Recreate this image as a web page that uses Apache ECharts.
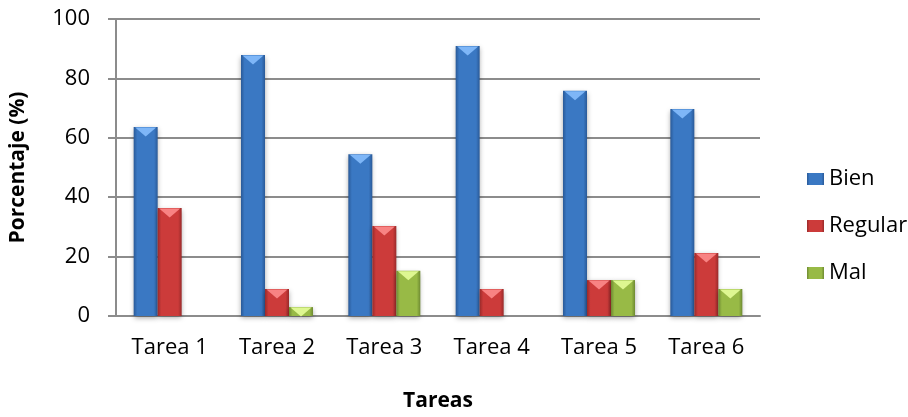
<!DOCTYPE html>
<html>
<head>
<meta charset="utf-8">
<script src="https://cdn.jsdelivr.net/npm/echarts@6/dist/echarts.min.js"></script>
<style>
  html, body { margin: 0; padding: 0; background: #fff; }
  #chart { width: 908px; height: 417px; }
</style>
</head>
<body>
<div id="chart"></div>
<script>
// Task categories and percentage results per rating
const categories = ['Tarea 1', 'Tarea 2', 'Tarea 3', 'Tarea 4', 'Tarea 5', 'Tarea 6'];
const bien    = [63.6, 87.9, 54.5, 90.9, 75.8, 69.7];
const regular = [36.4, 9.1, 30.3, 9.1, 12.1, 21.2];
const mal     = [0, 3.0, 15.2, 0, 12.1, 9.1];
const yTicks  = [0, 20, 40, 60, 80, 100];

const FONT = '"Open Sans", "Noto Sans", sans-serif';

// horizontal shading so each column looks rounded/bevelled
function shade(edge, mid) {
  return new echarts.graphic.LinearGradient(0, 0, 1, 0, [
    { offset: 0, color: edge },
    { offset: 0.15, color: mid },
    { offset: 0.85, color: mid },
    { offset: 1, color: edge }
  ]);
}

// light downward wedge on top of each column
function caps(values, color) {
  return {
    symbol: 'triangle',
    symbolRotate: 180,
    symbolSize: [21, 9],
    symbolOffset: [0, 5],
    silent: true,
    label: { show: false },
    itemStyle: { color: color },
    data: values.map((v, i) => ({ coord: [i, v] })).filter(d => d.coord[1] > 0)
  };
}

function barSeries(name, values, edge, mid, cap) {
  return {
    name: name,
    type: 'bar',
    data: values,
    barWidth: 24,
    barGap: '0%',
    itemStyle: {
      color: shade(edge, mid),
      shadowColor: 'rgba(0,0,0,0.35)',
      shadowBlur: 5,
      shadowOffsetY: 2
    },
    markPoint: caps(values, cap)
  };
}

const chart = echarts.init(document.getElementById('chart'), null, { renderer: 'canvas' });
chart.setOption({
  animation: false,
  backgroundColor: '#ffffff',
  grid: { left: 113, right: 148, top: 19, bottom: 87 },
  legend: {
    orient: 'vertical',
    left: 802,
    top: 163,
    itemWidth: 17,
    itemHeight: 12,
    itemGap: 25,
    icon: 'rect',
    textStyle: { fontFamily: FONT, fontSize: 22, color: '#000', lineHeight: 22 },
    data: ['Bien', 'Regular', 'Mal']
  },
  xAxis: {
    type: 'category',
    data: categories,
    name: 'Tareas',
    nameLocation: 'middle',
    nameGap: 75,
    nameTextStyle: { fontFamily: FONT, fontSize: 21, fontWeight: 'bold', color: '#000' },
    axisLine: { lineStyle: { color: '#8c8c8c', width: 2 } },
    axisTick: { show: false },
    axisLabel: { fontFamily: FONT, fontSize: 22, color: '#000', margin: 21 }
  },
  yAxis: {
    type: 'value',
    min: yTicks[0],
    max: yTicks[yTicks.length - 1],
    interval: 20,
    name: 'Porcentaje (%)',
    nameLocation: 'middle',
    nameGap: 87,
    nameTextStyle: { fontFamily: FONT, fontSize: 21, fontWeight: 'bold', color: '#000' },
    axisLine: { show: true, lineStyle: { color: '#8c8c8c', width: 2 } },
    axisTick: { show: true, inside: false, length: 8, lineStyle: { color: '#8c8c8c', width: 2 } },
    splitLine: { lineStyle: { color: '#8c8c8c', width: 2 } },
    axisLabel: { fontFamily: FONT, fontSize: 22, color: '#000', margin: 26 }
  },
  series: [
    barSeries('Bien', bien, '#2a5a98', '#3a78c3', 'rgba(130,185,250,0.95)'),
    barSeries('Regular', regular, '#992a2a', '#cc3b3a', 'rgba(250,135,135,0.95)'),
    barSeries('Mal', mal, '#6e8a32', '#98ba46', 'rgba(225,250,150,0.95)')
  ]
});
</script>
</body>
</html>
